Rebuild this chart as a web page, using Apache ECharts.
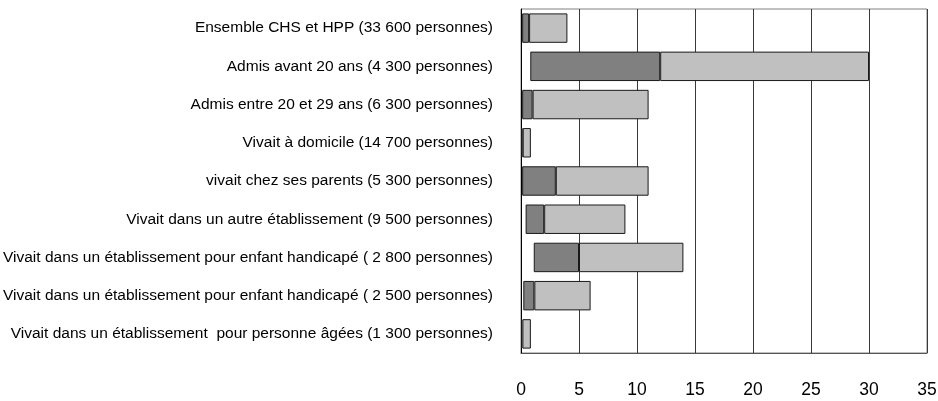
<!DOCTYPE html>
<html><head><meta charset="utf-8">
<script src="https://cdn.jsdelivr.net/npm/echarts@6/dist/echarts.min.js"></script>
<style>html,body{margin:0;padding:0;background:#fff}#c{width:938px;height:401px}</style>
</head><body><div id="c"></div>
<script>
const categories = [
  "Ensemble CHS et HPP (33 600 personnes)",
  "Admis avant 20 ans (4 300 personnes)",
  "Admis entre 20 et 29 ans (6 300 personnes)",
  "Vivait à domicile (14 700 personnes)",
  "vivait chez ses parents (5 300 personnes)",
  "Vivait dans un autre établissement (9 500 personnes)",
  "Vivait dans un établissement pour enfant handicapé ( 2 800 personnes)",
  "Vivait dans un établissement pour enfant handicapé ( 2 500 personnes)",
  "Vivait dans un établissement  pour personne âgées (1 300 personnes)"
];
const barStart = [0.1, 0.8, 0.1, 0, 0.1, 0.4, 1.1, 0.2, 0];
const darkEnd  = [0.7, 12, 1, 0.15, 3, 2, 5, 1.15, 0.12];
const lightEnd = [4, 30, 11, 0.85, 11, 9, 14, 6, 0.85];
const xTicks = [0, 5, 10, 15, 20, 25, 30, 35];

const offsetData = barStart;
const darkData = darkEnd.map((v, i) => +(v - barStart[i]).toFixed(3));
const lightData = lightEnd.map((v, i) => +(v - darkEnd[i]).toFixed(3));

const FONT = '"Liberation Sans", Arial, sans-serif';
const chart = echarts.init(document.getElementById('c'), null, {renderer: 'canvas'});
chart.setOption({
  animation: false,
  backgroundColor: '#fff',
  grid: {left: 521, right: 11, top: 9, bottom: 48, containLabel: false, outerBoundsMode: 'none',
         show: true, borderColor: '#808080', borderWidth: 1},
  xAxis: {
    type: 'value', min: xTicks[0], max: xTicks[xTicks.length - 1], interval: 5,
    axisLine: {show: true, lineStyle: {color: '#555', width: 1}},
    axisTick: {show: false},
    splitLine: {show: true, lineStyle: {color: '#3a3a3a', width: 1}},
    axisLabel: {color: '#000', fontFamily: FONT, fontSize: 17.5, margin: 28}
  },
  yAxis: {
    type: 'category', data: categories, inverse: true,
    axisLine: {show: true, lineStyle: {color: '#000', width: 1}},
    axisTick: {show: false},
    splitLine: {show: false},
    axisLabel: {color: '#000', fontFamily: FONT, fontSize: 15.5, margin: 28, interval: 0,
                padding: [5, 0, 0, 0]}
  },
  series: [
    {type: 'bar', stack: 's', data: offsetData, barWidth: '77%', silent: true,
     itemStyle: {color: 'rgba(0,0,0,0)', borderWidth: 0}},
    {type: 'bar', stack: 's', data: darkData, barWidth: '77%',
     itemStyle: {color: '#808080', borderColor: '#1a1a1a', borderWidth: 1}},
    {type: 'bar', stack: 's', data: lightData, barWidth: '77%',
     itemStyle: {color: '#c0c0c0', borderColor: '#1a1a1a', borderWidth: 1}}
  ]
});
</script></body></html>
